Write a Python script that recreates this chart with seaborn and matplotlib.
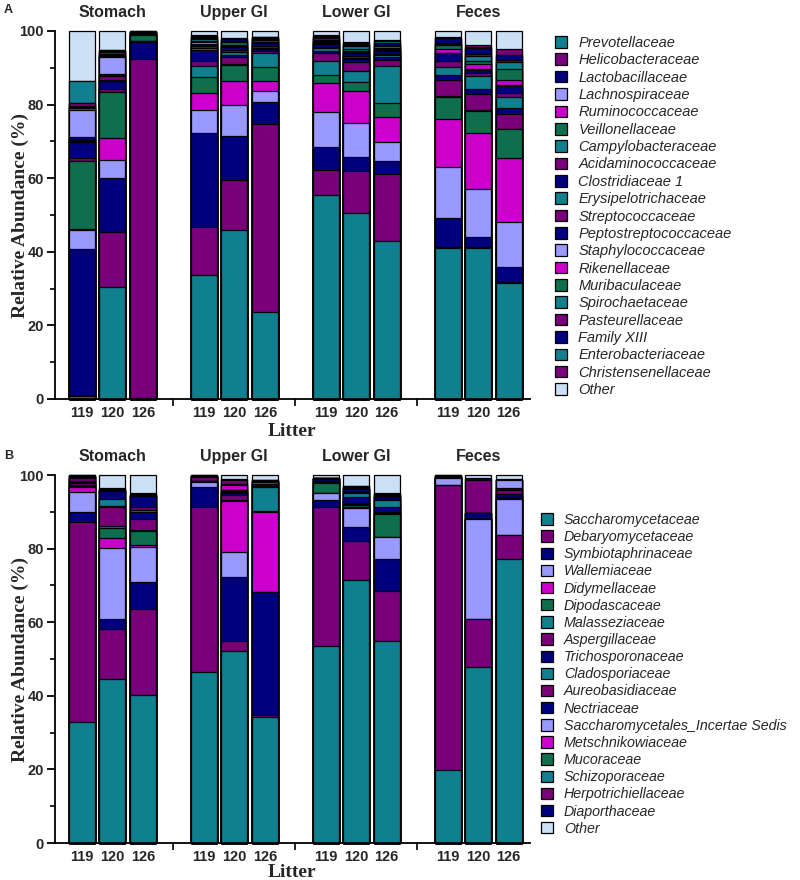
import numpy as np
import pandas as pd
import matplotlib
matplotlib.use("Agg")
import matplotlib.pyplot as plt
import seaborn as sns
from matplotlib.patches import Patch

sns.set_theme(style="ticks")
plt.rcParams['font.family'] = ['Liberation Sans', 'DejaVu Sans']

# ---------------- data ----------------
sites = ["Stomach", "Upper GI", "Lower GI", "Feces"]
litters = ["119", "120", "126"]

TEAL, PURP, NAVY, LAV, MAG, GRN, OTH = ("#10808F", "#7A007A", "#00007F", "#9999FF",
                                        "#CC00CC", "#0E6E4E", "#CCE0F5")

bact_families = ["Prevotellaceae", "Helicobacteraceae", "Lactobacillaceae", "Lachnospiraceae",
                 "Ruminococcaceae", "Veillonellaceae", "Campylobacteraceae", "Acidaminococcaceae",
                 "Clostridiaceae 1", "Erysipelotrichaceae", "Streptococcaceae",
                 "Peptostreptococcaceae", "Staphylococcaceae", "Rikenellaceae", "Muribaculaceae",
                 "Spirochaetaceae", "Pasteurellaceae", "Family XIII", "Enterobacteriaceae",
                 "Christensenellaceae", "Other"]
bact_colors = [TEAL, PURP, NAVY, LAV, MAG, GRN, TEAL, PURP, NAVY, TEAL, PURP, NAVY,
               LAV, MAG, GRN, TEAL, PURP, NAVY, TEAL, PURP, OTH]

# rows: litters 119, 120, 126 ; columns follow bact_families
bact_stomach = [
    [0.9, 0.1, 39.8, 5.0, 0.5, 18.3, 0.2, 0.7, 4.4, 0.3, 0.3, 0.7, 7.4, 0.5, 0.2, 0.2, 0.8, 0.1, 5.9, 0.0, 13.7],
    [30.5, 15.0, 14.5, 4.9, 5.9, 12.5, 0.2, 0.8, 2.2, 0.3, 1.0, 0.5, 4.7, 0.3, 0.2, 0.2, 0.6, 0.4, 0.1, 0.1, 5.1],
    [0.2, 92.2, 4.7, 0.1, 0.1, 1.5, 0.1, 0.1, 0.2, 0.1, 0.1, 0.1, 0.1, 0.0, 0.0, 0.0, 0.1, 0.1, 0.1, 0.0, 0.1],
]
bact_upper = [
    [33.7, 13.1, 25.4, 6.2, 4.8, 4.4, 3.0, 1.3, 3.0, 0.5, 0.6, 0.6, 0.3, 0.2, 0.3, 0.3, 0.3, 0.4, 0.2, 0.2, 1.2],
    [46.0, 13.5, 12.0, 8.4, 6.5, 4.4, 0.3, 1.7, 0.8, 0.8, 0.4, 0.8, 0.2, 0.3, 0.8, 0.2, 0.3, 0.3, 0.1, 0.2, 2.0],
    [23.7, 50.9, 6.2, 3.0, 2.6, 3.9, 3.6, 0.6, 0.6, 0.3, 0.5, 0.8, 0.2, 0.2, 0.4, 0.2, 0.3, 0.3, 0.1, 0.1, 1.5],
]
bact_lower = [
    [55.3, 6.9, 6.4, 9.3, 7.9, 2.2, 3.9, 2.0, 0.8, 0.6, 0.4, 0.7, 0.3, 0.2, 0.4, 0.3, 0.4, 0.5, 0.2, 0.2, 1.1],
    [50.6, 11.4, 3.8, 9.1, 8.8, 2.5, 2.9, 2.4, 0.8, 0.4, 0.4, 1.0, 0.2, 0.4, 0.3, 0.8, 0.4, 0.4, 0.2, 0.2, 3.0],
    [42.8, 18.3, 3.7, 5.1, 6.8, 3.6, 10.3, 1.5, 0.8, 0.5, 0.4, 0.9, 0.2, 0.3, 0.3, 0.3, 0.4, 0.6, 0.4, 0.3, 2.5],
]
bact_feces = [
    [41.1, 0.1, 8.1, 13.8, 13.0, 6.1, 0.2, 4.3, 1.3, 2.3, 1.6, 2.0, 0.2, 0.9, 1.2, 0.3, 0.3, 1.2, 0.2, 0.2, 1.6],
    [41.1, 0.1, 2.9, 12.9, 15.2, 6.1, 0.2, 4.4, 1.3, 3.6, 0.7, 0.9, 0.2, 1.3, 1.0, 1.3, 0.6, 1.6, 0.3, 0.6, 3.7],
    [31.6, 0.1, 4.1, 12.4, 17.2, 7.9, 0.2, 3.9, 1.8, 2.8, 1.2, 1.9, 0.2, 1.4, 3.0, 2.0, 0.3, 1.5, 0.1, 1.5, 4.9],
]

fung_families = ["Saccharomycetaceae", "Debaryomycetaceae", "Symbiotaphrinaceae", "Wallemiaceae",
                 "Didymellaceae", "Dipodascaceae", "Malasseziaceae", "Aspergillaceae",
                 "Trichosporonaceae", "Cladosporiaceae", "Aureobasidiaceae", "Nectriaceae",
                 "Saccharomycetales_Incertae Sedis", "Metschnikowiaceae", "Mucoraceae",
                 "Schizoporaceae", "Herpotrichiellaceae", "Diaporthaceae", "Other"]
fung_colors = [TEAL, PURP, NAVY, LAV, MAG, GRN, TEAL, PURP, NAVY, TEAL, PURP, NAVY,
               LAV, MAG, GRN, TEAL, PURP, NAVY, OTH]

fung_stomach = [
    [33.0, 54.3, 2.7, 5.3, 1.5, 0.2, 0.2, 0.6, 0.4, 0.1, 0.8, 0.3, 0.1, 0.1, 0.1, 0.1, 0.1, 0.1, 0.0],
    [44.5, 13.6, 2.8, 19.2, 2.9, 2.7, 0.4, 5.3, 0.2, 1.8, 0.2, 2.1, 0.1, 0.1, 0.1, 0.1, 0.1, 0.3, 3.5],
    [40.2, 23.4, 7.4, 9.3, 0.6, 4.0, 0.1, 3.0, 2.0, 0.6, 0.6, 3.0, 0.1, 0.1, 0.1, 0.1, 0.2, 0.4, 4.8],
]
fung_upper = [
    [46.6, 44.8, 5.4, 1.4, 0.1, 0.1, 0.1, 1.0, 0.1, 0.0, 0.2, 0.0, 0.0, 0.0, 0.0, 0.0, 0.1, 0.0, 0.1],
    [52.3, 2.6, 17.5, 6.6, 13.8, 0.2, 0.2, 1.4, 0.6, 0.1, 0.3, 0.2, 0.1, 1.4, 0.1, 0.1, 1.2, 0.2, 1.1],
    [34.3, 0.5, 33.3, 0.1, 21.8, 0.1, 6.7, 0.3, 0.5, 0.5, 0.1, 0.2, 0.0, 0.0, 0.0, 0.2, 0.0, 0.0, 1.4],
]
fung_lower = [
    [53.4, 38.0, 1.8, 1.8, 0.2, 2.5, 0.3, 0.3, 0.5, 0.1, 0.1, 0.2, 0.0, 0.0, 0.0, 0.0, 0.0, 0.0, 0.8],
    [71.5, 10.6, 3.9, 5.1, 0.1, 0.6, 0.3, 0.2, 1.6, 1.1, 0.3, 1.0, 0.1, 0.1, 0.2, 0.1, 0.1, 0.2, 2.9],
    [55.0, 13.5, 8.6, 6.0, 0.1, 6.1, 0.4, 0.3, 1.4, 1.8, 0.3, 0.6, 0.1, 0.1, 0.2, 0.3, 0.1, 0.3, 4.8],
]
fung_feces = [
    [19.8, 77.5, 0.1, 1.7, 0.0, 0.0, 0.0, 0.0, 0.3, 0.0, 0.0, 0.3, 0.0, 0.0, 0.0, 0.0, 0.2, 0.1, 0.0],
    [47.9, 12.9, 0.0, 27.2, 0.0, 0.0, 0.0, 0.0, 0.0, 0.0, 0.0, 1.6, 0.0, 0.0, 0.0, 0.0, 9.0, 0.5, 0.9],
    [77.1, 6.6, 0.1, 9.8, 0.0, 0.0, 0.1, 0.2, 1.0, 0.0, 1.0, 0.5, 2.2, 0.0, 0.0, 0.0, 0.1, 0.1, 1.2],
]

# ---------------- figure ----------------
fig = plt.figure(figsize=(8, 8.8), dpi=100)
W, H = 800.0, 880.0
SERIF = ['Liberation Serif', 'DejaVu Serif']


def fx(px):
    return px / W


def fy(py):
    return 1 - py / H


def draw_panel(ax, families, colors, site_data):
    rows = []
    for i, site in enumerate(sites):
        for j, lit in enumerate(litters):
            cum = np.cumsum(site_data[i][j])
            for k, fam in enumerate(families):
                rows.append(dict(pos=4 * i + j, k=k, family=fam, top=cum[k]))
    df = pd.DataFrame(rows)
    for k in range(len(families) - 1, -1, -1):
        sub = df[df.k == k]
        sns.barplot(data=sub, x="pos", y="top", native_scale=True, width=0.85,
                    color=colors[k], saturation=1, edgecolor="black", linewidth=0.9,
                    errorbar=None, ax=ax, clip_on=False)
    ax.set_xlim(-0.88, 14.7)
    ax.set_ylim(0, 100)
    ax.set_xticks([4 * i + j for i in range(4) for j in range(3)])
    ax.set_xticklabels(litters * 4, fontweight='bold', fontsize=10.5)
    ax.set_xticks([3, 7, 11], minor=True)
    ax.tick_params(axis='x', which='major', length=0, pad=5)
    ax.tick_params(axis='x', which='minor', length=5, width=1.2, direction='out', color='black')
    ax.set_yticks(range(0, 101, 20))
    ax.set_yticks(range(10, 100, 20), minor=True)
    ax.set_yticklabels([str(v) for v in range(0, 101, 20)], fontweight='bold', fontsize=10.5)
    ax.tick_params(axis='y', which='major', length=6, width=1.3, direction='out', color='black', pad=2)
    ax.tick_params(axis='y', which='minor', length=3.5, width=1.2, direction='out', color='black')
    for s in ['top', 'right']:
        ax.spines[s].set_visible(False)
    for s in ['left', 'bottom']:
        ax.spines[s].set_linewidth(1.3)
        ax.spines[s].set_color('black')
    ax.set_xlabel("")
    ax.set_ylabel("")
    for i, site in enumerate(sites):
        ax.text(4 * i + 1, 104.9, site, ha='center', va='center', fontweight='bold',
                fontsize=11.5, clip_on=False)


def add_legend(families, colors, left_px, top_px, spacing, size):
    handles = [Patch(facecolor=c, edgecolor='black', linewidth=0.9) for c in colors]
    fig.legend(handles, families, loc='upper left', bbox_to_anchor=(fx(left_px), fy(top_px)),
               frameon=False, prop=dict(family='Liberation Sans', style='italic', size=size),
               handlelength=0.85, handleheight=0.85, handletextpad=0.75, labelspacing=spacing,
               borderpad=0, borderaxespad=0)


axA = fig.add_axes([fx(55), fy(399), fx(475), 368 / H])
draw_panel(axA, bact_families, bact_colors,
           [bact_stomach, bact_upper, bact_lower, bact_feces])
add_legend(bact_families, bact_colors, 555, 36, 0.23, 10.5)

axB = fig.add_axes([fx(55), fy(843), fx(475), 368 / H])
draw_panel(axB, fung_families, fung_colors,
           [fung_stomach, fung_upper, fung_lower, fung_feces])
add_legend(fung_families, fung_colors, 541, 513, 0.22, 10.3)

for cy, ly, letter, ly2 in [(215, 431, "A", 10), (659, 872, "B", 456)]:
    fig.text(fx(20), fy(cy), "Relative Abundance (%)", rotation=90, ha='center', va='center',
             family=SERIF, fontweight='bold', fontsize=14)
    fig.text(fx(292), fy(ly), "Litter", ha='center', va='center',
             family=SERIF, fontweight='bold', fontsize=14)
    fig.text(fx(4), fy(ly2), letter, ha='left', va='center', fontweight='bold', fontsize=9)

fig.savefig("out.png", dpi=100)
